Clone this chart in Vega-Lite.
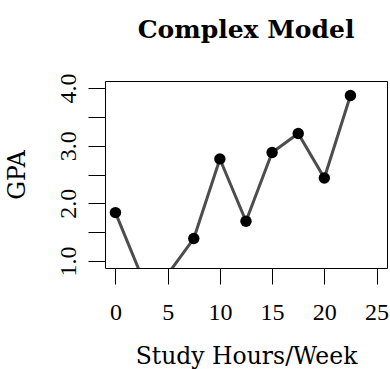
{
  "$schema": "https://vega.github.io/schema/vega-lite/v6.json",
  "autosize": "none",
  "width": 282,
  "height": 187,
  "padding": {"left": 105, "top": 81, "right": 3, "bottom": 101},
  "background": "white",
  "title": {
    "text": "Complex Model",
    "font": "DejaVu Serif",
    "fontSize": 25,
    "fontWeight": "bold",
    "color": "black",
    "anchor": "middle",
    "frame": "group",
    "baseline": "alphabetic",
    "offset": 10
  },
  "config": {
    "view": {"stroke": "black", "strokeWidth": 1},
    "axis": {
      "grid": false,
      "domain": false,
      "tickColor": "black",
      "tickWidth": 1,
      "labelFont": "Liberation Serif",
      "labelColor": "black",
      "labelFontSize": 24,
      "titleFont": "DejaVu Serif",
      "titleFontWeight": "normal",
      "titleColor": "black",
      "titleFontSize": 23.5
    }
  },
  "data": {
    "values": [
      {"hours": 0, "gpa": 1.84},
      {"hours": 2.5, "gpa": 0.74},
      {"hours": 5, "gpa": 0.77},
      {"hours": 7.5, "gpa": 1.39},
      {"hours": 10, "gpa": 2.77},
      {"hours": 12.5, "gpa": 1.69},
      {"hours": 15, "gpa": 2.88},
      {"hours": 17.5, "gpa": 3.21},
      {"hours": 20, "gpa": 2.44},
      {"hours": 22.5, "gpa": 3.87}
    ]
  },
  "encoding": {
    "x": {
      "field": "hours",
      "type": "quantitative",
      "scale": {"domain": [-1, 26], "nice": false, "zero": false},
      "axis": {
        "title": "Study Hours/Week",
        "values": [0, 5, 10, 15, 20, 25],
        "tickSize": 16,
        "labelPadding": 16,
        "titlePadding": 20,
        "labelFlush": false,
        "labelOverlap": false
      }
    },
    "y": {
      "field": "gpa",
      "type": "quantitative",
      "scale": {"domain": [0.88, 4.12], "nice": false, "zero": false},
      "axis": {
        "title": "GPA",
        "values": [1, 1.5, 2, 2.5, 3, 3.5, 4],
        "labelExpr": "datum.value % 1 === 0 ? format(datum.value, '.1f') : ''",
        "labelAngle": -90,
        "labelAlign": "center",
        "labelBaseline": "alphabetic",
        "tickSize": 17,
        "labelPadding": 13,
        "titlePadding": 27,
        "labelFlush": false,
        "labelOverlap": false
      }
    }
  },
  "layer": [
    {
      "mark": {"type": "line", "color": "#4d4d4d", "strokeWidth": 3, "clip": true}
    },
    {
      "mark": {"type": "point", "filled": true, "color": "black", "opacity": 1, "size": 130, "clip": true}
    }
  ]
}
